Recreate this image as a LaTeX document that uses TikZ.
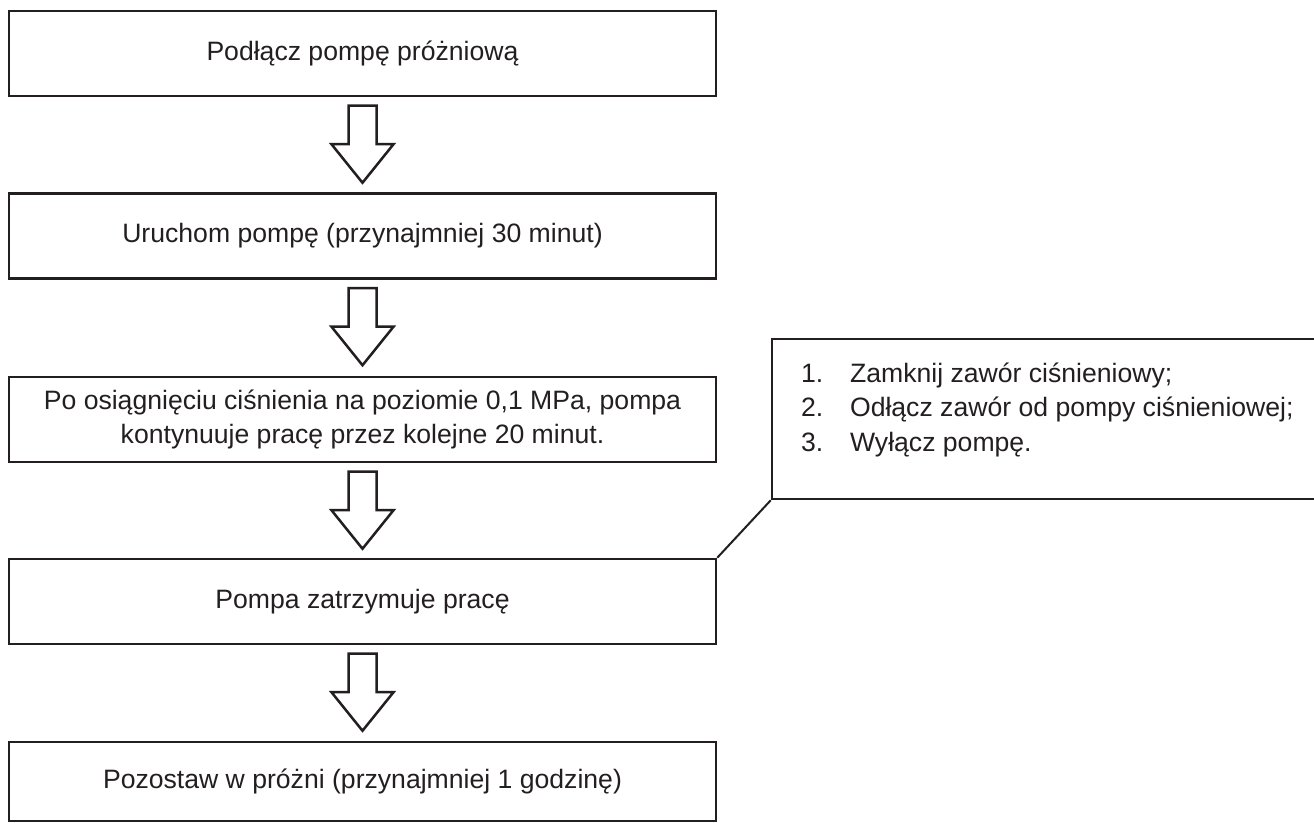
\documentclass[tikz,border=0pt]{standalone}
\usepackage{fontspec}
\setmainfont{Liberation Sans}
\usetikzlibrary{calc}
\definecolor{ink}{HTML}{231F20}
\begin{document}
\begin{tikzpicture}[x=0.5pt,y=-0.5pt,
  every node/.style={font=\fontsize{13.3pt}{17.25pt}\selectfont, text=ink},
  stepbox/.style={draw=ink, line width=1.25pt, rectangle, inner sep=0pt,
    minimum width=353.5pt, minimum height=42.5pt, align=center},
  callbox/.style={draw=ink, line width=1.25pt, rectangle, inner sep=0pt,
    minimum width=279pt, minimum height=80pt},
  conn/.style={draw=ink, line width=1pt},
  downarr/.pic={\draw[ink, line width=1.25pt, line join=miter]
    (-14,0) -- (14,0) -- (14,38.5) -- (31,38.5) -- (0,77) -- (-31,38.5) -- (-14,38.5) -- cycle;}
]
\useasboundingbox (0,0) rectangle (1314,823);
\fill[white] (0,0) rectangle (1314,823);

\node[stepbox] (b1) at (362.5,53.5) {Podłącz pompę próżniową};
\node[stepbox] (b2) at (362.5,236) {Uruchom pompę (przynajmniej 30 minut)};
\node[stepbox] (b3) at (362.5,419.5) {Po osiągnięciu ciśnienia na poziomie 0,1 MPa, pompa\\kontynuuje pracę przez kolejne 20 minut.};
\node[stepbox] (b4) at (362.5,601.5) {Pompa zatrzymuje pracę};
\node[stepbox, minimum height=39.5pt] (b5) at (362.5,781.5) {Pozostaw w próżni (przynajmniej 1 godzinę)};

\pic at ($(b1.south)+(0,8.5)$) {downarr};
\pic at ($(b2.south)+(0,8.5)$) {downarr};
\pic at ($(b3.south)+(0,8.5)$) {downarr};
\pic at ($(b4.south)+(0,8.5)$) {downarr};

\node[callbox] (c) at (1051,419) {};
\node[anchor=base west] (l1) at (794,382.5) {\makebox[24.5pt][l]{1.}Zamknij zawór ciśnieniowy;};
\node[anchor=base west] (l2) at (794,417) {\makebox[24.5pt][l]{2.}Odłącz zawór od pompy ciśnieniowej;};
\node[anchor=base west] (l3) at (794,451.5) {\makebox[24.5pt][l]{3.}Wyłącz pompę.};

\draw[conn] (c.south west) -- (b4.north east);
\end{tikzpicture}
\end{document}
